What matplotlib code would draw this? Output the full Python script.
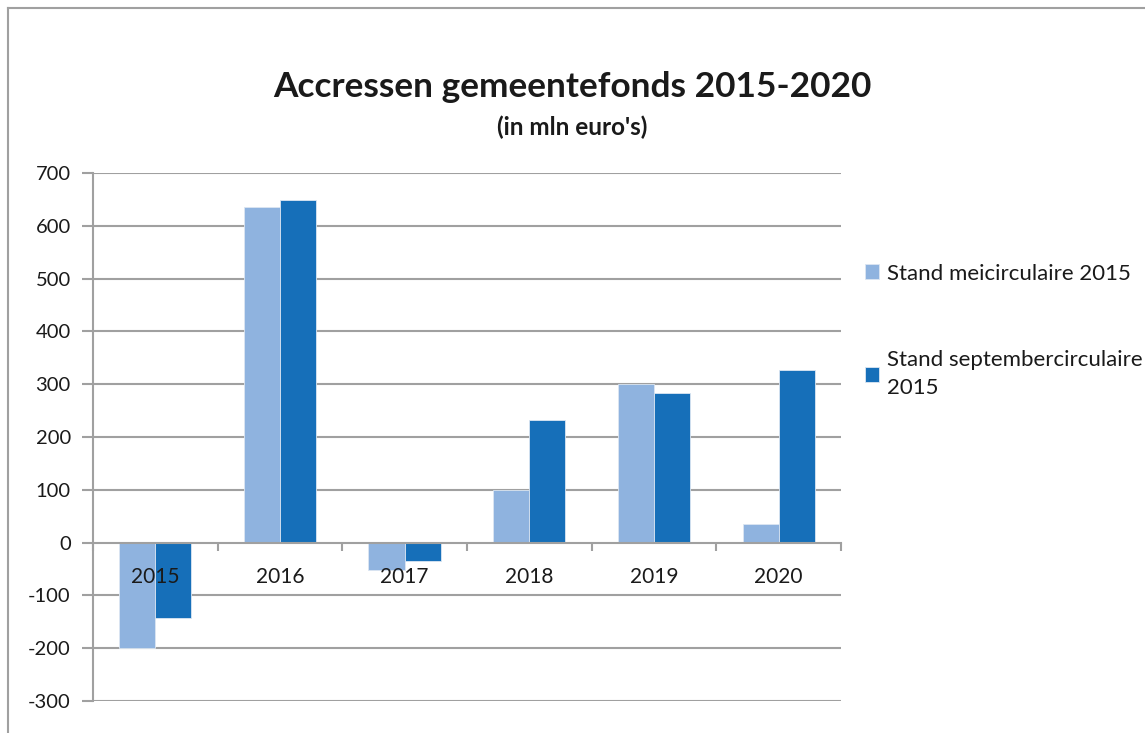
import numpy as np
import matplotlib
matplotlib.use("Agg")
import matplotlib.pyplot as plt
from matplotlib.lines import Line2D

plt.rcParams['font.family'] = ['Lato', 'DejaVu Sans']

years = ['2015', '2016', '2017', '2018', '2019', '2020']
mei = [-200, 636, -51, 100, 300, 36]
september = [-142, 648, -34, 233, 284, 326]
series_names = ['Stand meicirculaire 2015', 'Stand septembercirculaire\n2015']
y_ticks = [-300, -200, -100, 0, 100, 200, 300, 400, 500, 600, 700]

light = '#8FB3DF'
dark = '#166FB9'
grid_c = '#A0A0A0'
txt_c = '#1a1a1a'

fig = plt.figure(figsize=(11.45, 7.33), dpi=100)
ax = fig.add_axes([0.0812, 0.0437, 0.6533, 0.7203])

x = np.arange(len(years))
w = 0.29
ax.bar(x - w / 2, mei, w, color=light, edgecolor='#DCE6F2', linewidth=0.6,
       label=series_names[0], zorder=2)
ax.bar(x + w / 2, september, w, color=dark, edgecolor='#DCE6F2', linewidth=0.6,
       label=series_names[1], zorder=2)

ax.set_xlim(-0.5, len(years) - 0.5)
ax.set_ylim(-300, 700)
ax.set_yticks(y_ticks)
ax.set_yticklabels([str(v) for v in y_ticks])

# horizontal gridlines behind the bars
for v in y_ticks:
    if v != 0:
        ax.axhline(v, color=grid_c, linewidth=1.5, zorder=0)

# category labels sit just under the zero line, on top of the bars
ax.set_xticks(np.arange(-0.5, len(years)))
ax.set_xticklabels([])
for i, yr in enumerate(years):
    ax.text(i, -66, yr, ha='center', va='center', fontsize=15, color=txt_c, zorder=5)

ax.tick_params(axis='x', length=6, width=1.5, color=grid_c, direction='out')
ax.tick_params(axis='y', length=8, width=1.5, color=grid_c, pad=8, labelsize=14.5, labelcolor=txt_c)

ax.spines['bottom'].set_position(('data', 0))
ax.spines['bottom'].set_color(grid_c)
ax.spines['bottom'].set_linewidth(1.5)
ax.spines['left'].set_color(grid_c)
ax.spines['left'].set_linewidth(1.5)
ax.spines['top'].set_visible(False)
ax.spines['right'].set_visible(False)

fig.text(0.4995, 0.881, 'Accressen gemeentefonds 2015-2020', ha='center', va='center',
         fontsize=25.4, fontweight='bold', color=txt_c)
fig.text(0.4995, 0.826, "(in mln euro's)", ha='center', va='center',
         fontsize=17.5, fontweight='bold', color=txt_c)

leg = ax.legend(loc='upper left', bbox_to_anchor=(1.02, 0.845), frameon=False,
                fontsize=16, handlelength=0.65, handleheight=0.65, handletextpad=0.35,
                labelspacing=3.0, borderaxespad=0)
for t in leg.get_texts():
    t.set_color(txt_c)
    t.set_linespacing(1.5)

# outer chart frame (partially visible)
fig.add_artist(Line2D([8 / 1145, 1], [1 - 8 / 733, 1 - 8 / 733], color=grid_c, linewidth=1.5))
fig.add_artist(Line2D([8 / 1145, 8 / 1145], [0, 1 - 8 / 733], color=grid_c, linewidth=1.5))

fig.savefig('out.png', dpi=100)
